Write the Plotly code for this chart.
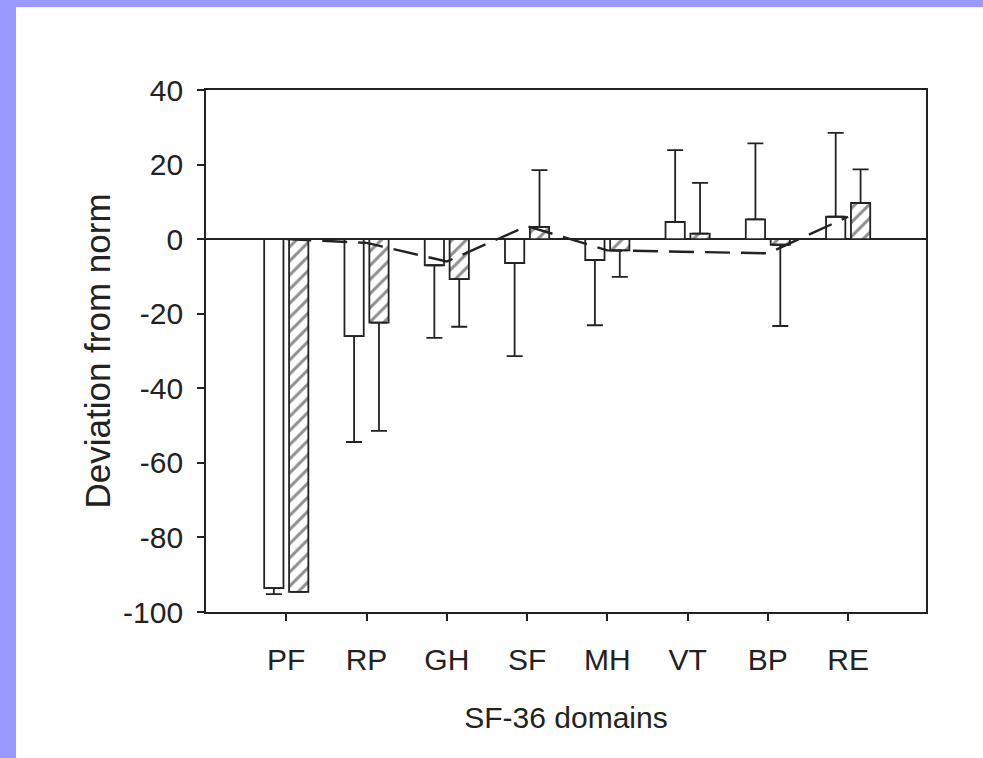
import plotly.graph_objects as go

categories = ["PF", "RP", "GH", "SF", "MH", "VT", "BP", "RE"]
group1_values = [-93.6, -26.0, -7.0, -6.4, -5.6, 4.6, 5.3, 6.0]
group1_errors = [1.6, 28.4, 19.5, 25.0, 17.5, 19.3, 20.4, 22.5]
group2_values = [-94.6, -22.4, -10.7, 3.3, -3.0, 1.5, -1.5, 9.7]
group2_errors = [0.0, 29.0, 12.8, 15.2, 7.1, 13.6, 21.8, 9.0]
line_values = [0.0, -1.0, -6.0, 3.5, -3.0, -3.3, -3.8, 6.0]
y_ticks = [-100, -80, -60, -40, -20, 0, 20, 40]
y_tick_labels = ["-100", "-80", "-60", "-40", "-20", "0", "20", "40"]

INK = "#222222"
BLUE = "#9a9afc"
FONT = "Liberation Sans, Arial, Helvetica, sans-serif"
FS = 30


def one_sided(vals, errs):
    up = [e if v >= 0 else 0 for v, e in zip(vals, errs)]
    down = [e if v < 0 else 0 for v, e in zip(vals, errs)]
    return up, down


u1, d1 = one_sided(group1_values, group1_errors)
u2, d2 = one_sided(group2_values, group2_errors)

fig = go.Figure()
fig.add_trace(go.Bar(
    x=categories, y=group1_values, width=0.24, offset=-0.275,
    marker=dict(color="white", line=dict(color=INK, width=1.8)),
    error_y=dict(type="data", symmetric=False, array=u1, arrayminus=d1,
                 color=INK, thickness=1.8, width=8),
    showlegend=False,
))
fig.add_trace(go.Bar(
    x=categories, y=group2_values, width=0.24, offset=0.035,
    marker=dict(color="white", line=dict(color=INK, width=1.8),
                pattern=dict(shape="/", fgcolor=INK, bgcolor="white",
                             size=10, solidity=0.3)),
    error_y=dict(type="data", symmetric=False, array=u2, arrayminus=d2,
                 color=INK, thickness=1.8, width=8),
    showlegend=False,
))
fig.add_trace(go.Scatter(
    x=categories, y=line_values, mode="lines",
    line=dict(color=INK, width=2.4, dash="25px,11px"),
    showlegend=False,
))

L, R, T, B = 206, 57, 90, 146
W, H = 983, 758
pw, ph = W - L - R, H - T - B


def px_x(p):
    return (p - L) / pw


def px_y(p):
    return 1 - (p - T) / ph


shapes = [
    dict(type="rect", xref="paper", yref="paper", layer="below",
         x0=px_x(-5), x1=px_x(16), y0=px_y(H + 5), y1=px_y(-5),
         fillcolor=BLUE, line=dict(width=0)),
    dict(type="rect", xref="paper", yref="paper", layer="below",
         x0=px_x(-5), x1=px_x(W + 5), y0=px_y(7), y1=px_y(-5),
         fillcolor=BLUE, line=dict(width=0)),
]

fig.update_layout(
    width=W, height=H,
    margin=dict(l=L, r=R, t=T, b=B),
    paper_bgcolor="white", plot_bgcolor="white",
    barmode="overlay",
    shapes=shapes,
    font=dict(family=FONT, size=FS, color=INK),
)
fig.update_xaxes(
    type="category", range=[-1, 7.97],
    showline=True, linecolor=INK, linewidth=1.8, mirror=True,
    ticks="outside", ticklen=7, tickwidth=1.6, tickcolor=INK,
    showgrid=False, zeroline=False,
    tickfont=dict(family=FONT, size=FS, color=INK),
    ticklabelstandoff=13,
    title=dict(text="SF-36 domains", font=dict(family=FONT, size=FS, color=INK),
               standoff=32),
)
fig.update_yaxes(
    range=[-100, 40], tickvals=y_ticks, ticktext=y_tick_labels,
    showline=True, linecolor=INK, linewidth=1.8, mirror=True,
    ticks="outside", ticklen=7, tickwidth=1.6, tickcolor=INK,
    showgrid=False,
    zeroline=True, zerolinecolor=INK, zerolinewidth=1.8,
    tickfont=dict(family=FONT, size=FS, color=INK),
    ticklabelstandoff=8,
    title=dict(text="Deviation from norm",
               font=dict(family=FONT, size=35, color=INK),
               standoff=2),
)

fig.write_html("out.html", config={"displayModeBar": False},
               post_script="document.body.style.margin='0';")
